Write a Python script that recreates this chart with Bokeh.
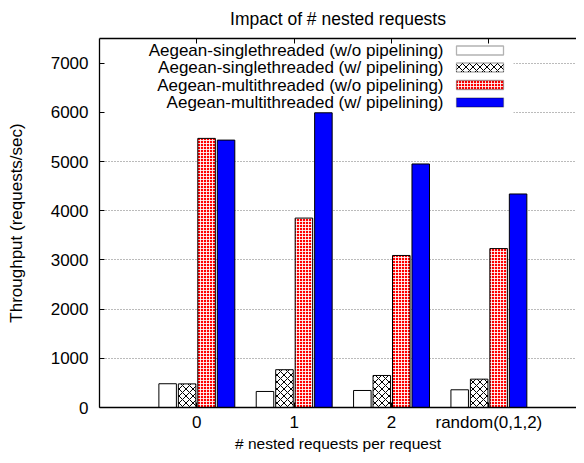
from bokeh.plotting import figure
from bokeh.models import (FixedTicker, LinearAxis, BoxAnnotation, Label, Range1d,
                          ColumnDataSource)
from bokeh.transform import dodge
from bokeh.embed import file_html
from bokeh.resources import INLINE

# ---------------- data ----------------
categories = ["0", "1", "2", "random(0,1,2)"]
series_names = [
    "Aegean-singlethreaded (w/o pipelining)",
    "Aegean-singlethreaded (w/ pipelining)",
    "Aegean-multithreaded (w/o pipelining)",
    "Aegean-multithreaded (w/ pipelining)",
]
single_wo = [483, 326, 346, 360]
single_w = [480, 768, 651, 576]
multi_wo = [5470, 3850, 3090, 3230]
multi_w = [5435, 5990, 4950, 4340]
y_ticks = [0, 1000, 2000, 3000, 4000, 5000, 6000, 7000]
title_text = "Impact of # nested requests"
x_title = "# nested requests per request"
y_title = "Throughput (requests/sec)"

FONT = "Liberation Sans"

styles = [
    dict(fill_color="white", hatch_pattern=None),
    dict(fill_color="white", hatch_pattern="diagonal_cross", hatch_color="black",
         hatch_scale=7, hatch_weight=1),
    dict(fill_color="#ff0000", hatch_pattern="cross", hatch_color="white",
         hatch_scale=3, hatch_weight=1, hatch_alpha=0.85),
    dict(fill_color="#0000ff", hatch_pattern=None),
]
offsets = [-0.3, -0.1, 0.1, 0.3]

src = ColumnDataSource(dict(x=list(range(len(categories))),
                            s0=single_wo, s1=single_w, s2=multi_wo, s3=multi_w))

p = figure(width=576, height=455, output_backend="svg", toolbar_location=None,
           x_range=Range1d(-1, 3.9), y_range=Range1d(0, 7500),
           min_border_left=99, min_border_right=0, min_border_top=38,
           min_border_bottom=48, title=title_text)
p.outline_line_color = None
p.background_fill_color = "white"
p.border_fill_color = "white"

p.title.text_font = FONT
p.title.text_font_size = "17.5px"
p.title.text_font_style = "normal"
p.title.text_color = "black"
p.title.align = "center"
p.title.vertical_align = "top"
p.title.standoff = 16

# grid (drawn first, so the key's white background can hide it)
p.xgrid.visible = False
p.ygrid.ticker = FixedTicker(ticks=y_ticks[1:])
p.ygrid.grid_line_color = "#777777"
p.ygrid.grid_line_dash = "1 2"
p.ygrid.grid_line_width = 1
p.ygrid.level = "image"

# axes
for ax in (p.xaxis[0], p.yaxis[0]):
    ax.major_tick_in = 5
    ax.major_tick_out = 0
    ax.minor_tick_line_color = None
    ax.major_label_text_font = FONT
    ax.major_label_text_font_size = "17px"
    ax.major_label_text_color = "black"
    ax.axis_label_text_font = FONT
    ax.axis_label_text_font_style = "normal"
    ax.axis_label_text_color = "black"
    ax.axis_line_color = "black"
    ax.major_tick_line_color = "black"
    ax.axis_line_width = 1.3

p.yaxis.ticker = FixedTicker(ticks=y_ticks)
p.yaxis.major_label_standoff = 11
p.yaxis.axis_label = y_title
p.yaxis.axis_label_text_font_size = "17px"
p.yaxis.axis_label_standoff = 22

p.xaxis.ticker = FixedTicker(ticks=list(range(len(categories))))
p.xaxis.major_label_overrides = {i: c for i, c in enumerate(categories)}
p.xaxis.major_label_standoff = 5
p.xaxis.axis_label = x_title
p.xaxis.axis_label_text_font_size = "15.5px"
p.xaxis.axis_label_standoff = 0

top_axis = LinearAxis(ticker=FixedTicker(ticks=list(range(len(categories)))),
                      major_tick_in=5, major_tick_out=0,
                      minor_tick_line_color=None,
                      major_label_text_font_size="0px", major_label_text_alpha=0,
                      major_label_standoff=0, axis_line_color="black",
                      major_tick_line_color="black", axis_line_width=1.3)
p.add_layout(top_axis, "above")

# bars
for i, (off, st) in enumerate(zip(offsets, styles)):
    kw = dict(st)
    if kw.get("hatch_pattern") is None:
        kw.pop("hatch_pattern")
    p.vbar(x=dodge("x", off, range=p.x_range), top="s%d" % i, bottom=0,
           width=0.18, source=src, line_color="black", line_width=1, **kw)

# legend background (opaque, hides grid lines behind the key, under the bars)
p.add_layout(BoxAnnotation(left=5, right=414, bottom=294, top=369,
                           left_units="screen", right_units="screen",
                           bottom_units="screen", top_units="screen",
                           fill_color="white", fill_alpha=1, line_color=None,
                           level="underlay"))

# manual legend (label on the left, sample on the right)
row_y = [357, 340, 322.5, 305]
for name, st, ry in zip(series_names, styles, row_y):
    kw = dict(st)
    if kw.get("hatch_pattern") is None:
        kw.pop("hatch_pattern")
    p.add_layout(BoxAnnotation(left=357, right=404, bottom=ry - 4.5, top=ry + 4.5,
                               left_units="screen", right_units="screen",
                               bottom_units="screen", top_units="screen",
                               line_color="black", line_width=1.3, fill_alpha=1, **kw))
    p.add_layout(Label(x=344, y=ry, x_units="screen", y_units="screen", text=name,
                       text_align="right", text_baseline="middle",
                       text_font=FONT, text_font_size="17px", text_color="black"))

open("out.html", "w").write(file_html(p, INLINE))
